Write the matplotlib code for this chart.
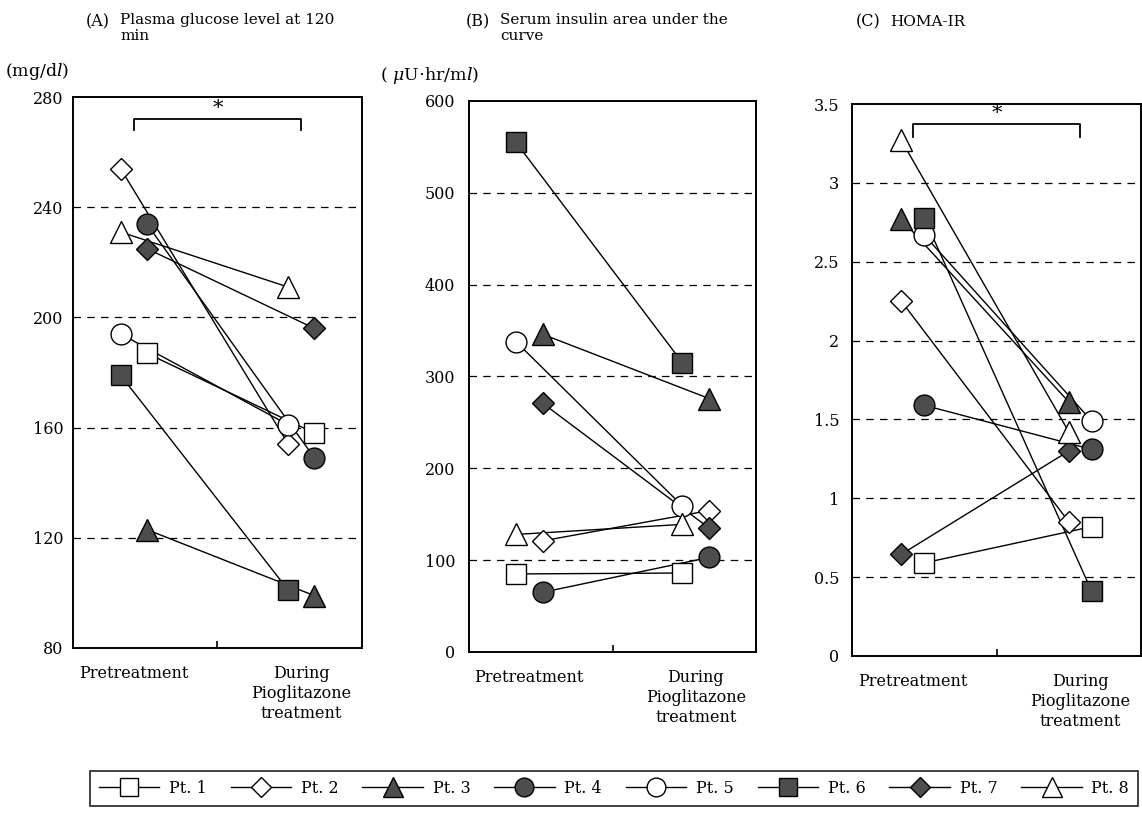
import matplotlib
matplotlib.use('Agg')
import matplotlib.pyplot as plt
from matplotlib.lines import Line2D

plt.rcParams['font.family'] = ['DejaVu Serif']
plt.rcParams['mathtext.fontset'] = 'dejavuserif'

# ---------------- data ----------------
patients = ['Pt. 1', 'Pt. 2', 'Pt. 3', 'Pt. 4', 'Pt. 5', 'Pt. 6', 'Pt. 7', 'Pt. 8']
categories = ['Pretreatment', 'During\nPioglitazone\ntreatment']

glucose_pre = [187, 254, 123, 234, 194, 179, 225, 231]
glucose_post = [158, 154, 99, 149, 161, 101, 196, 211]

insulin_pre = [85, 121, 346, 65, 338, 555, 271, 128]
insulin_post = [86, 154, 276, 103, 159, 315, 135, 139]

homa_pre = [0.59, 2.25, 2.77, 1.59, 2.67, 2.78, 0.645, 3.27]
homa_post = [0.82, 0.85, 1.61, 1.31, 1.49, 0.41, 1.30, 1.42]

glucose_ticks = [80, 120, 160, 200, 240, 280]
insulin_ticks = [0, 100, 200, 300, 400, 500, 600]
homa_ticks = [0, 0.5, 1, 1.5, 2, 2.5, 3, 3.5]
homa_ticklabels = ['0', '0.5', '1', '1.5', '2', '2.5', '3', '3.5']

# column (left/right) used for each patient's symbol within a category
side_A = [1, -1, 1, 1, -1, -1, 1, -1]
side_B = [-1, 1, 1, 1, -1, -1, 1, -1]
side_C = [1, -1, -1, 1, 1, 1, -1, -1]

# ---------------- styles ----------------
markers = ['s', 'D', '^', 'o', 'o', 's', 'D', '^']
filled = [False, False, True, True, False, True, True, False]
msizes = {'s': 15, 'o': 15, 'D': 11.5, '^': 16}
DARK = '#4d4d4d'

W, H = 1142, 815
fig = plt.figure(figsize=(W / 100, H / 100), dpi=100)


def fx(x):
    return x / W


def fy(y):
    return 1 - y / H


panels = [
    dict(rect=(73, 97, 362, 648), pre=glucose_pre, post=glucose_post, side=side_A,
         off=0.078, ticks=glucose_ticks, labels=[str(t) for t in glucose_ticks],
         ylim=(80, 280), pad=7, bracket=(268, 272, 276)),
    dict(rect=(469, 101, 756, 652), pre=insulin_pre, post=insulin_post, side=side_B,
         off=0.08, ticks=insulin_ticks, labels=[str(t) for t in insulin_ticks],
         ylim=(0, 600), pad=10, bracket=None),
    dict(rect=(852, 104, 1141, 656), pre=homa_pre, post=homa_post, side=side_C,
         off=0.068, ticks=homa_ticks, labels=homa_ticklabels,
         ylim=(0, 3.5), pad=9, bracket=(3.29, 3.375, 3.44)),
]

for p in panels:
    l, t, r, b = p['rect']
    ax = fig.add_axes([fx(l), fy(b), (r - l) / W, (b - t) / H])
    ax.set_xlim(-0.362, 1.362)
    ax.set_ylim(*p['ylim'])
    for s in ax.spines.values():
        s.set_linewidth(1.4)
    for tv in p['ticks'][1:-1]:
        ax.axhline(tv, color='black', lw=0.9, ls=(0, (6, 5)), zorder=1)
    # connecting lines
    for i in range(len(patients)):
        xs = [0 + p['side'][i] * p['off'], 1 + p['side'][i] * p['off']]
        ys = [p['pre'][i], p['post'][i]]
        ax.plot(xs, ys, color='black', lw=1.0, zorder=2)
    # markers
    for i in range(len(patients)):
        xs = [0 + p['side'][i] * p['off'], 1 + p['side'][i] * p['off']]
        ys = [p['pre'][i], p['post'][i]]
        m = markers[i]
        ax.plot(xs, ys, ls='none', marker=m, ms=msizes[m],
                mfc=DARK if filled[i] else 'white', mec='black', mew=1.0,
                zorder=3, clip_on=False)
    ax.set_yticks(p['ticks'])
    ax.set_yticklabels(p['labels'], fontsize=11.5)
    ax.tick_params(axis='y', length=0, pad=p['pad'])
    ax.set_xticks([0, 1])
    ax.set_xticklabels(categories, fontsize=11.5, linespacing=1.25, va='top')
    ax.tick_params(axis='x', length=0, pad=12)
    ax.set_xticks([0.5], minor=True)
    ax.tick_params(axis='x', which='minor', direction='in', length=5, width=1.2)
    if p['bracket'] is not None:
        lo, hi, st = p['bracket']
        ax.plot([0, 0, 1, 1], [lo, hi, hi, lo], color='black', lw=1.3, zorder=4)
        ax.text(0.5, st, '*', ha='center', va='center', fontsize=15)

# titles
fig.text(fx(86), fy(22), '(A)', fontsize=11.5, va='center', ha='left')
fig.text(fx(120), fy(13), 'Plasma glucose level at 120\nmin', fontsize=11,
         va='top', ha='left', linespacing=1.2)
fig.text(fx(466), fy(22), '(B)', fontsize=11.5, va='center', ha='left')
fig.text(fx(500), fy(13), 'Serum insulin area under the\ncurve', fontsize=11,
         va='top', ha='left', linespacing=1.2)
fig.text(fx(856), fy(22), '(C)', fontsize=11.5, va='center', ha='left')
fig.text(fx(890), fy(22), 'HOMA-IR', fontsize=11, va='center', ha='left')

# unit labels
fig.text(fx(5), fy(72), r'(mg/d$\mathit{l}$)', fontsize=12.5, va='center', ha='left')
fig.text(fx(380), fy(75), r'( $\mathit{\mu}$U$\cdot$hr/m$\mathit{l}$)', fontsize=12.5,
         va='center', ha='left')

# legend
handles = [Line2D([0], [0], color='black', lw=1.0, marker=markers[i],
                  ms=msizes[markers[i]] * 0.9,
                  mfc=DARK if filled[i] else 'white', mec='black', mew=1.0)
           for i in range(len(patients))]
leg = fig.legend(handles, patients, loc='center',
                 bbox_to_anchor=(fx(90), fy(809), 1048 / W, 41 / H),
                 mode='expand', ncol=8, frameon=True, fancybox=False,
                 edgecolor='black', handlelength=3.8, handletextpad=0.6,
                 borderaxespad=0, borderpad=0.55, fontsize=11.5)
leg.get_frame().set_linewidth(1.3)

fig.savefig('out.png', dpi=100)
